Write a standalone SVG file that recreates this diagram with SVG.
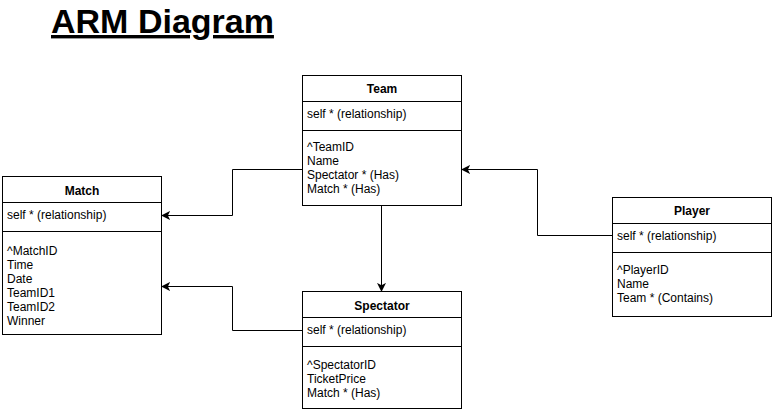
<svg xmlns="http://www.w3.org/2000/svg" width="773" height="414" viewBox="0 0 773 414">
<style>
.box{fill:#fff;stroke:#000;stroke-width:1}
.ln{stroke:#000;stroke-width:1;fill:none}
.t{font-family:"Liberation Sans",Arial,sans-serif;font-size:12px;fill:#000}
.h{font-family:"Liberation Sans",Arial,sans-serif;font-size:12px;font-weight:bold;fill:#000;text-anchor:middle}
.title{font-family:"Liberation Sans",Arial,sans-serif;font-size:34px;font-weight:bold;text-decoration:underline;fill:#000}
</style>
<defs>
<marker id="arr" viewBox="0 0 10 10" refX="9" refY="5" markerWidth="9" markerHeight="9" markerUnits="userSpaceOnUse" orient="auto">
<path d="M0,0 L10,5 L0,10 L2.5,5 Z" fill="#000"/>
</marker>
</defs>
<rect width="773" height="414" fill="#fff"/>
<text class="title" x="51" y="33">ARM Diagram</text>
<g id="connectors">
<path class="ln" d="M302,169.5 H232.5 V215.5 H162" marker-end="url(#arr)"/>
<path class="ln" d="M381.5,205 V291" marker-end="url(#arr)"/>
<path class="ln" d="M612,235.5 H537.5 V169.5 H462" marker-end="url(#arr)"/>
<path class="ln" d="M302,330.5 H232.5 V286.5 H162" marker-end="url(#arr)"/>
</g>
<g id="team">
<rect class="box" x="302.5" y="75.5" width="159" height="130"/>
<line class="ln" x1="302.5" y1="101.5" x2="461.5" y2="101.5"/>
<line class="ln" x1="302.5" y1="130.5" x2="461.5" y2="130.5"/>
<text class="h" x="382" y="93">Team</text>
<text class="t" x="307" y="118">self * (relationship)</text>
<text class="t" x="307" y="151">^TeamID</text>
<text class="t" x="307" y="165">Name</text>
<text class="t" x="307" y="179">Spectator * (Has)</text>
<text class="t" x="307" y="193">Match * (Has)</text>
</g>
<g id="match">
<rect class="box" x="2.5" y="176.5" width="159" height="158"/>
<line class="ln" x1="2.5" y1="202.5" x2="161.5" y2="202.5"/>
<line class="ln" x1="2.5" y1="231.5" x2="161.5" y2="231.5"/>
<text class="h" x="82" y="195">Match</text>
<text class="t" x="7" y="219">self * (relationship)</text>
<text class="t" x="7" y="255">^MatchID</text>
<text class="t" x="7" y="269">Time</text>
<text class="t" x="7" y="283">Date</text>
<text class="t" x="7" y="297">TeamID1</text>
<text class="t" x="7" y="311">TeamID2</text>
<text class="t" x="7" y="325">Winner</text>
</g>
<g id="player">
<rect class="box" x="612.5" y="197.5" width="159" height="119"/>
<line class="ln" x1="612.5" y1="223.5" x2="771.5" y2="223.5"/>
<line class="ln" x1="612.5" y1="252.5" x2="771.5" y2="252.5"/>
<text class="h" x="692" y="215">Player</text>
<text class="t" x="617" y="240">self * (relationship)</text>
<text class="t" x="617" y="274">^PlayerID</text>
<text class="t" x="617" y="288">Name</text>
<text class="t" x="617" y="302">Team * (Contains)</text>
</g>
<g id="spectator">
<rect class="box" x="302.5" y="291.5" width="159" height="117"/>
<line class="ln" x1="302.5" y1="317.5" x2="461.5" y2="317.5"/>
<line class="ln" x1="302.5" y1="346.5" x2="461.5" y2="346.5"/>
<text class="h" x="382" y="310">Spectator</text>
<text class="t" x="307" y="334">self * (relationship)</text>
<text class="t" x="307" y="369">^SpectatorID</text>
<text class="t" x="307" y="383">TicketPrice</text>
<text class="t" x="307" y="397">Match * (Has)</text>
</g>
</svg>
